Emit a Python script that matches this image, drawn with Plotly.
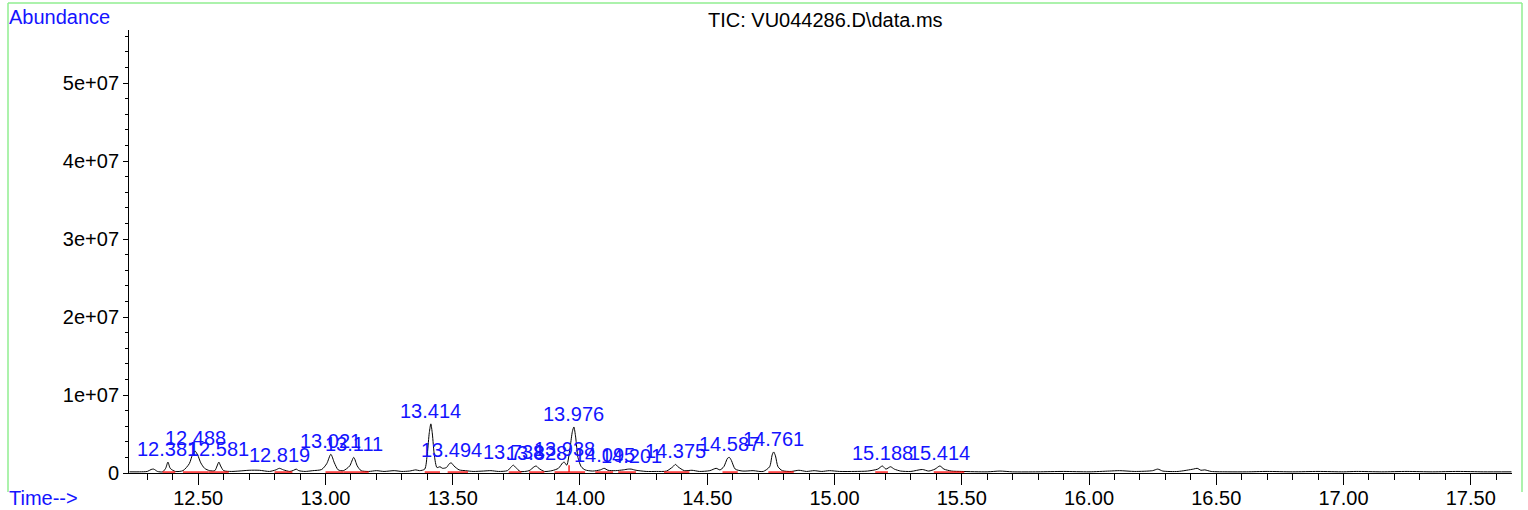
import plotly.graph_objects as go

# ---------------- data ----------------
# TIC trace: retention time (min) and abundance (millions of counts)
rt = [12.23, 12.27, 12.30, 12.315, 12.325, 12.34, 12.36, 12.372, 12.381, 12.39, 12.41, 12.44,
      12.465, 12.478, 12.488, 12.498, 12.51, 12.525, 12.545, 12.565, 12.574, 12.581, 12.588,
      12.60, 12.63, 12.66, 12.70, 12.74, 12.78, 12.805, 12.819, 12.835, 12.86, 12.875, 12.885,
      12.895, 12.92, 12.95, 12.985, 13.005, 13.021, 13.035, 13.05, 13.07, 13.095, 13.111, 13.125,
      13.14, 13.17, 13.20, 13.23, 13.27, 13.30, 13.33, 13.355, 13.37, 13.39, 13.40, 13.408,
      13.414, 13.420, 13.428, 13.438, 13.45, 13.46, 13.475, 13.487, 13.494, 13.505, 13.525,
      13.55, 13.58, 13.62, 13.65, 13.68, 13.715, 13.73, 13.738, 13.748, 13.765, 13.80, 13.82,
      13.828, 13.838, 13.86, 13.89, 13.915, 13.932, 13.938, 13.948, 13.962, 13.970, 13.976,
      13.983, 13.992, 14.005, 14.02, 14.05, 14.08, 14.095, 14.11, 14.14, 14.17, 14.19, 14.201,
      14.22, 14.26, 14.30, 14.34, 14.365, 14.375, 14.385, 14.41, 14.44, 14.47, 14.51, 14.535,
      14.55, 14.565, 14.58, 14.587, 14.595, 14.61, 14.64, 14.68, 14.72, 14.745, 14.755, 14.761,
      14.768, 14.778, 14.795, 14.83, 14.86, 14.89, 14.92, 14.95, 14.98, 15.02, 15.08, 15.13,
      15.17, 15.188, 15.202, 15.22, 15.235, 15.26, 15.30, 15.345, 15.37, 15.395, 15.414, 15.43,
      15.46, 15.50, 15.60, 15.65, 15.70, 15.80, 15.90, 16.00, 16.08, 16.12, 16.18, 16.25, 16.27,
      16.29, 16.35, 16.41, 16.425, 16.44, 16.455, 16.48, 16.55, 16.62, 16.70, 16.80, 16.90,
      17.00, 17.05, 17.15, 17.25, 17.35, 17.45, 17.55, 17.66]
abund_m = [0.15, 0.15, 0.2, 0.45, 0.5, 0.2, 0.15, 0.6, 1.4, 0.6, 0.2, 0.3,
           1.2, 2.4, 2.8, 2.3, 1.3, 0.6, 0.3, 0.3, 0.9, 1.4, 0.9,
           0.3, 0.2, 0.25, 0.35, 0.35, 0.2, 0.4, 0.6, 0.4, 0.2, 0.35, 0.5,
           0.3, 0.2, 0.3, 0.45, 1.2, 2.4, 1.3, 0.4, 0.3, 0.9, 2.0, 0.9,
           0.3, 0.2, 0.3, 0.2, 0.3, 0.2, 0.25, 0.4, 0.3, 0.5, 2.5, 5.2,
           6.3, 5.0, 2.2, 0.7, 0.8, 0.6, 0.7, 1.2, 1.3, 0.9, 0.4,
           0.3, 0.2, 0.25, 0.3, 0.2, 0.3, 0.8, 1.0, 0.7, 0.2, 0.3, 0.8,
           0.9, 0.6, 0.2, 0.3, 0.6, 1.3, 1.4, 1.0, 3.5, 5.3, 5.9,
           4.6, 2.0, 0.8, 0.4, 0.25, 0.4, 0.6, 0.35, 0.3, 0.4, 0.5, 0.5,
           0.35, 0.2, 0.2, 0.25, 0.8, 1.1, 0.8, 0.3, 0.35, 0.2, 0.3, 0.6,
           0.4, 0.8, 1.9, 2.0, 1.6, 0.5, 0.25, 0.3, 0.2, 0.8, 2.3, 2.7,
           2.2, 0.8, 0.3, 0.2, 0.35, 0.2, 0.3, 0.2, 0.3, 0.2, 0.2, 0.25,
           0.5, 0.9, 0.5, 0.8, 0.5, 0.25, 0.2, 0.45, 0.25, 0.5, 0.9, 0.5,
           0.25, 0.2, 0.15, 0.25, 0.15, 0.15, 0.2, 0.15, 0.25, 0.3, 0.2, 0.3, 0.5,
           0.25, 0.2, 0.5, 0.6, 0.35, 0.4, 0.2, 0.15, 0.15, 0.2, 0.15, 0.2,
           0.15, 0.2, 0.15, 0.2, 0.15, 0.2, 0.15, 0.15]

# Integrated peaks: label retention time and apex abundance (millions)
peak_rt = [12.381, 12.488, 12.581, 12.819, 13.021, 13.111, 13.414, 13.494, 13.738, 13.828,
           13.938, 13.976, 14.095, 14.201, 14.375, 14.587, 14.761, 15.188, 15.414]
peak_height_m = [1.4, 2.8, 1.4, 0.6, 2.4, 2.0, 6.3, 1.3, 1.0, 0.9,
                 1.4, 5.9, 0.6, 0.5, 1.1, 2.0, 2.7, 0.9, 0.9]

# Integration baselines (start, end in min)
int_start = [12.36, 12.44, 12.54, 12.80, 13.00, 13.07, 13.39, 13.48, 13.72, 13.80, 13.90, 13.957,
             14.06, 14.15, 14.33, 14.56, 14.74, 15.16, 15.39]
int_end = [12.41, 12.54, 12.62, 12.87, 13.07, 13.17, 13.45, 13.56, 13.77, 13.86, 13.957, 14.02,
           14.13, 14.22, 14.43, 14.62, 14.84, 15.21, 15.51]
int_base_m = 0.12
drop_rt = [13.957]
drop_top_m = [1.0]

x_major = [12.5, 13.0, 13.5, 14.0, 14.5, 15.0, 15.5, 16.0, 16.5, 17.0, 17.5]
y_major = [0, 1e7, 2e7, 3e7, 4e7, 5e7]
y_labels = ["0", "1e+07", "2e+07", "3e+07", "4e+07", "5e+07"]

title_text = "TIC: VU044286.D\\data.ms"

# ---------------- figure ----------------
FONT = "Liberation Sans, Arial, Helvetica, sans-serif"
BLUE = "#1414ff"
GREEN = "#90ee90"

M = 1e6
fig = go.Figure()

fig.add_trace(go.Scatter(
    x=rt, y=[v * M for v in abund_m], mode="lines",
    line=dict(color="black", width=1, shape="spline", smoothing=0.7),
    hoverinfo="skip", showlegend=False))

# red integration baselines
bx, by = [], []
for s, e in zip(int_start, int_end):
    bx += [s, e, None]
    by += [int_base_m * M, int_base_m * M, None]
for d, top in zip(drop_rt, drop_top_m):
    bx += [d, d, None]
    by += [int_base_m * M, top * M, None]
fig.add_trace(go.Scatter(x=bx, y=by, mode="lines", line=dict(color="red", width=1.3),
                         hoverinfo="skip", showlegend=False))

annotations = []
for t, h in zip(peak_rt, peak_height_m):
    annotations.append(dict(x=t, y=h * M, xref="x", yref="y", text=f"{t:.3f}",
                            showarrow=False, xanchor="center", yanchor="bottom",
                            font=dict(family=FONT, size=20, color=BLUE)))

L, R, T, B = 129, 16, 30, 37
W, H = 1528, 510
pw, ph = W - L - R, H - T - B

def px_x(p):
    return (p - L) / pw

def px_y(p):
    return (H - B - p) / ph

annotations += [
    dict(x=px_x(825), y=px_y(20), xref="paper", yref="paper", text=title_text,
         showarrow=False, xanchor="center", yanchor="middle",
         font=dict(family=FONT, size=20, color="black")),
    dict(x=px_x(7), y=px_y(17), xref="paper", yref="paper", text="Abundance",
         showarrow=False, xanchor="left", yanchor="middle",
         font=dict(family=FONT, size=20, color=BLUE)),
    dict(x=px_x(7), y=px_y(498), xref="paper", yref="paper", text="Time-->",
         showarrow=False, xanchor="left", yanchor="middle",
         font=dict(family=FONT, size=20, color=BLUE)),
]

shapes = [
    dict(type="line", xref="paper", yref="paper", x0=px_x(8), x1=px_x(1522), y0=px_y(3), y1=px_y(3),
         line=dict(color=GREEN, width=1.5)),
    dict(type="line", xref="paper", yref="paper", x0=px_x(8), x1=px_x(8), y0=px_y(3), y1=px_y(492),
         line=dict(color=GREEN, width=1.5)),
    dict(type="line", xref="paper", yref="paper", x0=px_x(1522), x1=px_x(1522), y0=px_y(3), y1=px_y(492),
         line=dict(color=GREEN, width=1.5)),
]

fig.update_layout(
    template="none",
    width=W, height=H, autosize=False,
    margin=dict(l=L, r=R, t=T, b=B, pad=0),
    paper_bgcolor="white", plot_bgcolor="white",
    annotations=annotations, shapes=shapes,
    font=dict(family=FONT, size=20, color="black"),
    xaxis=dict(range=[12.228, 17.662], showgrid=False, zeroline=False, automargin=False,
               showline=True, linecolor="black", linewidth=1,
               tickmode="array", tickvals=x_major, ticktext=[f"{v:.2f}" for v in x_major],
               ticks="outside", ticklen=11, tickwidth=1, tickcolor="black",
               ticklabelstandoff=-4,
               tickfont=dict(family=FONT, size=20, color="black"),
               minor=dict(dtick=0.1, tick0=12.0, ticks="outside", ticklen=6, tickwidth=1,
                          tickcolor="black", showgrid=False)),
    yaxis=dict(range=[0, 5.68e7], showgrid=False, zeroline=False, automargin=False,
               showline=True, linecolor="black", linewidth=1,
               tickmode="array", tickvals=y_major, ticktext=y_labels,
               ticks="outside", ticklen=5, tickwidth=1, tickcolor="black",
               tickfont=dict(family=FONT, size=20, color="black"),
               minor=dict(dtick=2e6, tick0=0, ticks="outside", ticklen=3, tickwidth=1,
                          tickcolor="black", showgrid=False)),
)

fig.write_html("out.html",
               config={"displayModeBar": False, "responsive": False},
               post_script="document.body.style.margin='0';document.body.style.overflow='hidden';")
